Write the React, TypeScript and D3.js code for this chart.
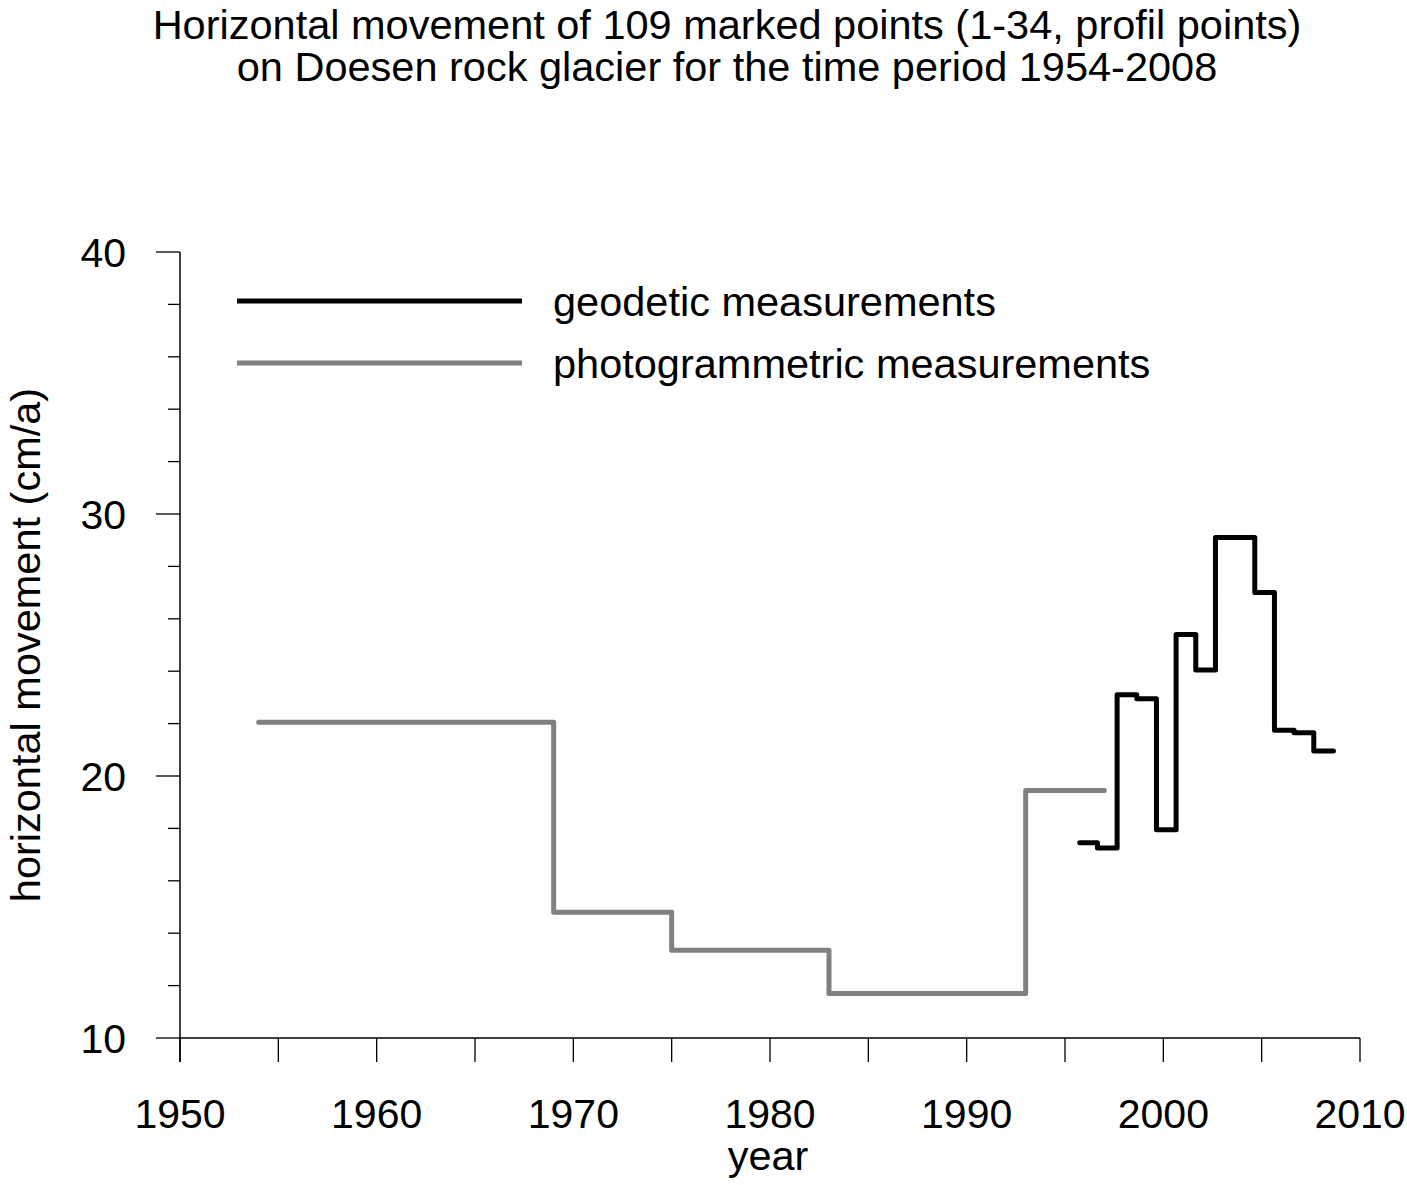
import React from "react";
import * as d3 from "d3";

const titleLines = [
  "Horizontal movement of 109 marked points (1-34, profil points)",
  "on Doesen rock glacier for the time period 1954-2008",
];
const xTicks = [1950, 1960, 1970, 1980, 1990, 2000, 2010];
const yTicks = [10, 20, 30, 40];

const photoDates = [1954, 1969, 1975, 1983, 1993, 1997];
const photoValues = [22.05, 14.8, 13.35, 11.7, 19.45];

const geoDates = [1995.75, 1996.65, 1997.65, 1998.65, 1999.65, 2000.65, 2001.65, 2002.65, 2004.65, 2005.65, 2006.65, 2007.65, 2008.65];
const geoValues = [17.45, 17.25, 23.1, 22.95, 17.95, 25.4, 24.05, 29.1, 27.0, 21.75, 21.65, 20.95];

const legendItems = [
  { label: "geodetic measurements", color: "#000000" },
  { label: "photogrammetric measurements", color: "#808080" },
];

export default function App() {
  const W = 1407, H = 1185;
  const x = d3.scaleLinear().domain([1950, 2010]).range([180, 1360]);
  const y = d3.scaleLinear().domain([10, 40]).range([1038, 252]);
  const font = "'Liberation Sans', Arial, sans-serif";

  const toPts = (dates: number[], vals: number[]) =>
    dates.map((d, i) => [d, i < vals.length ? vals[i] : vals[vals.length - 1]] as [number, number]);

  const line = d3
    .line<[number, number]>()
    .x((d) => x(d[0]))
    .y((d) => y(d[1]))
    .curve(d3.curveStepAfter);

  const minorY = d3.range(10, 40.001, 2);
  const minorX = d3.range(1950, 2010.001, 5);

  return (
    <svg width={W} height={H} style={{ position: "absolute", left: 0, top: 0, background: "#fff" }} fontFamily={font}>
      <rect width={W} height={H} fill="#fff" />
      {titleLines.map((t, i) => (
        <text key={i} x={727} y={39 + i * 42} textAnchor="middle" fontSize={41.5}>
          {t}
        </text>
      ))}
      {/* axes */}
      <line x1={180} x2={180} y1={252} y2={1062} stroke="#000" strokeWidth={1.5} />
      <line x1={180} x2={1360} y1={1038} y2={1038} stroke="#000" strokeWidth={1.5} />
      {minorY.map((v) => (
        <line
          key={v}
          x1={v % 10 === 0 ? 156 : 168}
          x2={180}
          y1={y(v)}
          y2={y(v)}
          stroke="#000"
          strokeWidth={1.3}
        />
      ))}
      {minorX.map((v) => (
        <line key={v} x1={x(v)} x2={x(v)} y1={1038} y2={1062} stroke="#000" strokeWidth={1.3} />
      ))}
      {yTicks.map((v) => (
        <text key={v} x={126} y={y(v)} dy="0.36em" textAnchor="end" fontSize={41}>
          {v}
        </text>
      ))}
      {xTicks.map((v) => (
        <text key={v} x={x(v)} y={1128} textAnchor="middle" fontSize={41}>
          {v}
        </text>
      ))}
      <text x={768} y={1170} textAnchor="middle" fontSize={41.5}>
        year
      </text>
      <text transform="translate(40,645) rotate(-90)" textAnchor="middle" fontSize={41.5}>
        horizontal movement (cm/a)
      </text>
      {/* data */}
      <path d={line(toPts(photoDates, photoValues)) || ""} fill="none" stroke="#808080" strokeWidth={5} strokeLinejoin="round" strokeLinecap="round" />
      <path d={line(toPts(geoDates, geoValues)) || ""} fill="none" stroke="#000" strokeWidth={5} strokeLinejoin="round" strokeLinecap="round" />
      {/* legend */}
      {legendItems.map((it, i) => (
        <g key={it.label}>
          <line x1={237} x2={522} y1={301 + i * 62} y2={301 + i * 62} stroke={it.color} strokeWidth={5} />
          <text x={553} y={301 + i * 62} dy="0.36em" fontSize={41.5}>
            {it.label}
          </text>
        </g>
      ))}
    </svg>
  );
}
